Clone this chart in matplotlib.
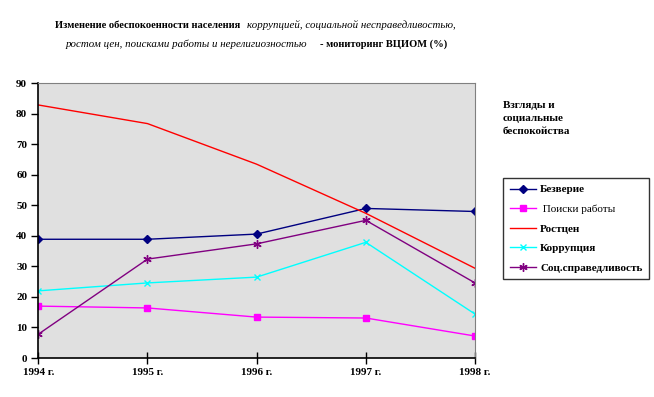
import matplotlib.pyplot as plt

plt.rcParams['font.family'] = ['Liberation Serif', 'DejaVu Serif']

# data
years = ['1994 г.', '1995 г.', '1996 г.', '1997 г.', '1998 г.']
bezverie = [38.9, 38.9, 40.6, 49.0, 48.0]
poiski = [17.0, 16.4, 13.4, 13.1, 7.2]
rost_cen = [82.9, 76.8, 63.5, 47.4, 29.4]
korrupcia = [22.0, 24.6, 26.5, 37.9, 14.4]
socspr = [7.8, 32.4, 37.4, 45.1, 24.6]
yticks = list(range(0, 91, 10))

W, H = 654, 397
fig = plt.figure(figsize=(W / 100, H / 100), dpi=100)
ax = fig.add_axes([38.3 / W, 1 - 358 / H, (475 - 38.3) / W, (358 - 83.3) / H])
ax.set_facecolor('#e0e0e0')

x = range(len(years))
ax.plot(x, bezverie, color='#000080', marker='D', ms=4, lw=1, label='Безверие')
ax.plot(x, poiski, color='#ff00ff', marker='s', ms=5, lw=1, label=' Поиски работы')
ax.plot(x, rost_cen, color='#ff0000', lw=1, label='Ростцен')
ax.plot(x, korrupcia, color='#00ffff', marker='x', ms=5, lw=1, label='Коррупция')
ax.plot(x, socspr, color='#800080', marker=(6, 2, 0), ms=6, lw=1, label='Соц.справедливость')

ax.set_xlim(0, 4)
ax.set_ylim(0, 90)
ax.set_xticks(list(x))
ax.set_xticklabels(years, fontweight='bold', fontsize=8)
ax.set_yticks(yticks)
ax.set_yticklabels([str(v) for v in yticks], fontweight='bold', fontsize=8)
ax.tick_params(axis='y', direction='out', length=5, width=1, pad=3)
ax.tick_params(axis='x', direction='inout', length=8, width=1, pad=3)
for s in ['top', 'right']:
    ax.spines[s].set_color('#808080')
for s in ['left', 'bottom']:
    ax.spines[s].set_color('black')
    ax.spines[s].set_linewidth(1.2)

# title with mixed bold / italic pieces
fb, fi = 7.6, 7.8
fig.text(240 / W, 1 - 25 / H, 'Изменение обеспокоенности населения', fontsize=fb,
         fontweight='bold', ha='right', va='center')
fig.text(247 / W, 1 - 25 / H, 'коррупцией, социальной несправедливостью,', fontsize=fi,
         style='italic', ha='left', va='center')
fig.text(307 / W, 1 - 44 / H, 'ростом цен, поисками работы и нерелигиозностью', fontsize=fi,
         style='italic', ha='right', va='center')
fig.text(320 / W, 1 - 44 / H, '- мониторинг ВЦИОМ (%)', fontsize=fb,
         fontweight='bold', ha='left', va='center')

# legend header
fig.text(503 / W, 1 - 101 / H, 'Взгляды и\nсоциальные\nбеспокойства', fontsize=8,
         fontweight='bold', ha='left', va='top', linespacing=1.6)

leg = ax.legend(loc='upper left', bbox_to_anchor=(503 / W, 1 - 178 / H),
                bbox_transform=fig.transFigure, borderaxespad=0, fancybox=False,
                frameon=True, edgecolor='black', fontsize=8, handlelength=2.4,
                handletextpad=0.35, labelspacing=0.88, borderpad=0.6)
leg.get_frame().set_linewidth(1)
for t in leg.get_texts():
    if t.get_text().strip() != 'Поиски работы':
        t.set_fontweight('bold')

fig.savefig('out.png', dpi=100)
